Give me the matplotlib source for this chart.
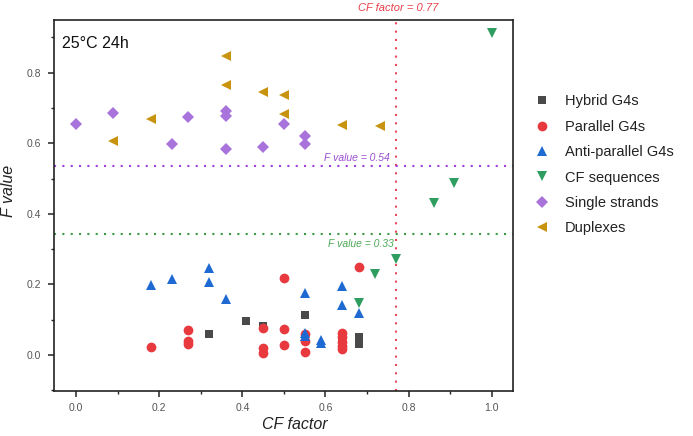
import matplotlib
matplotlib.use("Agg")
import matplotlib.pyplot as plt
from matplotlib.ticker import MultipleLocator

plt.rcParams['font.family'] = ['Liberation Sans', 'DejaVu Sans']

# ---- data ----
hybrid_x = [0.32, 0.41, 0.45, 0.55, 0.64, 0.68, 0.68, 0.68]
hybrid_y = [0.060, 0.095, 0.083, 0.112, 0.033, 0.050, 0.040, 0.030]

parallel_x = [0.18, 0.27, 0.27, 0.27, 0.45, 0.45, 0.45, 0.50, 0.50, 0.50,
              0.55, 0.55, 0.55, 0.64, 0.64, 0.64, 0.64, 0.64, 0.68]
parallel_y = [0.024, 0.070, 0.040, 0.030, 0.076, 0.020, 0.007, 0.218, 0.075, 0.028,
              0.060, 0.040, 0.008, 0.062, 0.050, 0.038, 0.026, 0.016, 0.250]

anti_x = [0.18, 0.23, 0.32, 0.32, 0.36, 0.55, 0.55, 0.55, 0.59, 0.59, 0.64, 0.64, 0.68]
anti_y = [0.198, 0.215, 0.247, 0.208, 0.159, 0.177, 0.062, 0.054, 0.043, 0.035, 0.195, 0.141, 0.118]

cf_x = [0.68, 0.72, 0.77, 0.86, 0.91, 1.00]
cf_y = [0.148, 0.229, 0.271, 0.430, 0.488, 0.911]

single_x = [0.00, 0.09, 0.23, 0.27, 0.36, 0.36, 0.36, 0.45, 0.50, 0.55, 0.55]
single_y = [0.654, 0.686, 0.597, 0.673, 0.691, 0.677, 0.584, 0.589, 0.655, 0.620, 0.597]

duplex_x = [0.09, 0.18, 0.36, 0.36, 0.45, 0.50, 0.50, 0.64, 0.73]
duplex_y = [0.606, 0.669, 0.847, 0.765, 0.744, 0.737, 0.683, 0.651, 0.649]

labels = ["Hybrid G4s", "Parallel G4s", "Anti-parallel G4s",
          "CF sequences", "Single strands", "Duplexes"]

cf_threshold = 0.77
f_high = 0.535
f_low = 0.342
f_high_label = "0.54"
f_low_label = "0.33"

# ---- figure ----
fig = plt.figure(figsize=(6.93, 4.36), dpi=100)
ax = fig.add_axes([0.0779, 0.104, 0.6623, 0.850])

series = [
    (hybrid_x, hybrid_y, 's', '#4a4a4a', 6.0),
    (parallel_x, parallel_y, 'o', '#e8393e', 7.0),
    (anti_x, anti_y, '^', '#1f6ad2', 7.5),
    (cf_x, cf_y, 'v', '#2e9d5f', 7.5),
    (single_x, single_y, 'D', '#a874dc', 6.5),
    (duplex_x, duplex_y, '<', '#c8930e', 7.5),
]
for (xs, ys, m, c, ms), lab in zip(series, labels):
    ax.plot(xs, ys, linestyle='none', marker=m, color=c, markersize=ms,
            markeredgewidth=0, label=lab, zorder=3)

dot = (0, (1, 3))
ax.axvline(cf_threshold, color='#e8485a', linestyle=dot, lw=1.5, zorder=2)
ax.axhline(f_high, color='#a040d8', linestyle=dot, lw=1.5, zorder=2)
ax.axhline(f_low, color='#3f9a45', linestyle=dot, lw=1.5, zorder=2)

ax.text(cf_threshold + 0.005, 1.032, "CF factor = 0.77", transform=ax.get_xaxis_transform(),
        ha='center', va='center', color='#e8404a', style='italic', fontsize=8)
ax.text(0.755, f_high + 0.01, "F value = " + f_high_label, ha='right', va='bottom',
        color='#9b4fd0', style='italic', fontsize=7.5)
ax.text(0.765, f_low - 0.012, "F value = " + f_low_label, ha='right', va='top',
        color='#4caa55', style='italic', fontsize=7.5)

ax.text(0.018, 0.958, "25°C 24h", transform=ax.transAxes, ha='left', va='top',
        fontsize=11.5, color='#111111')

ax.set_xlim(-0.053, 1.051)
ax.set_ylim(-0.101, 0.949)
ax.xaxis.set_minor_locator(MultipleLocator(0.1))
ax.yaxis.set_minor_locator(MultipleLocator(0.1))
ax.set_xticks([0.0, 0.2, 0.4, 0.6, 0.8, 1.0])
ax.set_xticklabels(['0.0', '0.2', '0.4', '0.6', '0.8', '1.0'])
ax.set_yticks([0.0, 0.2, 0.4, 0.6, 0.8])
ax.set_yticklabels(['0.0', '0.2', '0.4', '0.6', '0.8'])
ax.tick_params(which='major', direction='out', length=4, width=1.1,
               labelsize=7.5, labelcolor='#555555', color='#222222', pad=5)
ax.tick_params(which='minor', direction='out', length=2.5, width=1.0, color='#222222')
for s in ax.spines.values():
    s.set_linewidth(1.2)
    s.set_color('#222222')

ax.set_xlabel("CF factor", style='italic', fontsize=11.5, color='#222222')
ax.set_ylabel("F value", style='italic', fontsize=11.5, color='#222222')
ax.xaxis.set_label_coords(0.525, -0.07)
ax.yaxis.set_label_coords(-0.083, 0.54)

leg = ax.legend(loc='upper left', bbox_to_anchor=(1.034, 0.815), frameon=False,
                fontsize=10.5, labelspacing=0.78, handletextpad=1.07,
                handlelength=1.0, borderaxespad=0)
for t in leg.get_texts():
    t.set_color('#222222')

fig.savefig("out.png", dpi=100)
